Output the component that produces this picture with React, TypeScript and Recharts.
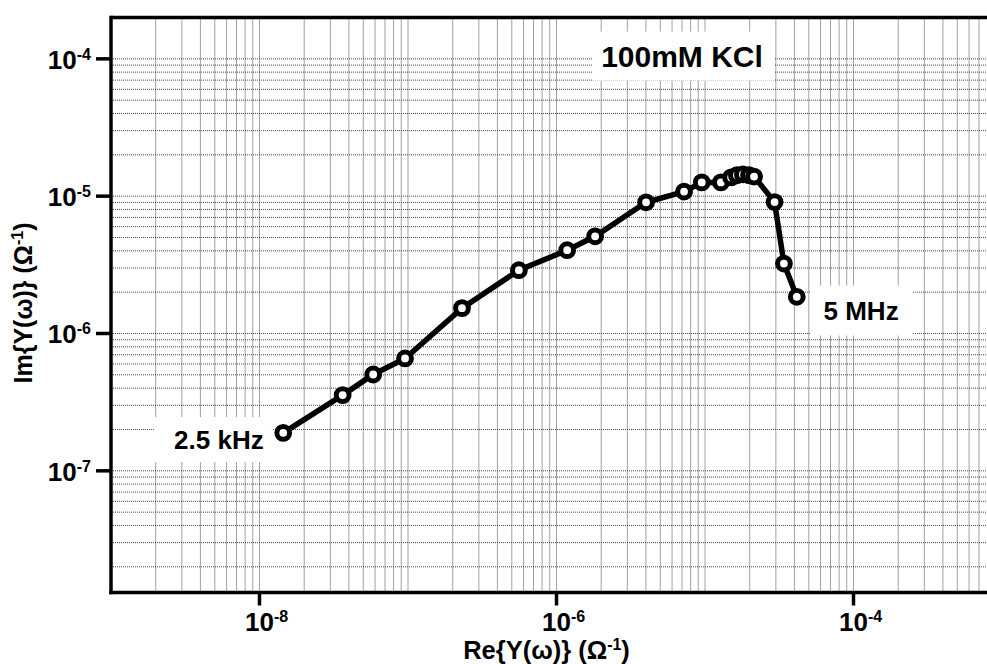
import React from "react";
import { LineChart, Line, XAxis, YAxis, CartesianGrid, ReferenceLine, ReferenceDot } from "recharts";

// Re{Y(ω)} (Ω^-1)
const reY = [
  1.445e-8, 3.63e-8, 5.83e-8, 9.55e-8, 2.31e-7, 5.58e-7, 1.18e-6, 1.82e-6, 4.01e-6, 7.23e-6,
  9.51e-6, 1.28e-5, 1.5e-5, 1.64e-5, 1.8e-5, 1.98e-5, 2.14e-5, 2.94e-5, 3.4e-5, 4.15e-5,
];
// Im{Y(ω)} (Ω^-1)
const imY = [
  1.89e-7, 3.56e-7, 5.03e-7, 6.58e-7, 1.53e-6, 2.89e-6, 4.04e-6, 5.1e-6, 9.02e-6, 1.08e-5,
  1.26e-5, 1.26e-5, 1.37e-5, 1.42e-5, 1.44e-5, 1.42e-5, 1.39e-5, 9.06e-6, 3.23e-6, 1.85e-6,
];

const X_DOMAIN = [1e-9, 1e-3];
const Y_DOMAIN = [1.3e-8, 2e-4];
const X_MAJOR = [1e-8, 1e-6, 1e-4];
const Y_MAJOR = [1e-7, 1e-6, 1e-5, 1e-4];
const X_DECADES = [1e-9, 1e-8, 1e-7, 1e-6, 1e-5, 1e-4];
const Y_DECADES = [1e-8, 1e-7, 1e-6, 1e-5, 1e-4];
const MULTIPLIERS = [1, 2, 3, 4, 5, 6, 7, 8, 9];

const LABEL_KCL = { x: 7.0e-6, y: 1.047e-4, text: "100mM KCl" };
const LABEL_LOW = { x: 5.33e-9, y: 1.69e-7, text: "2.5 kHz" };
const LABEL_HIGH = { x: 1.125e-4, y: 1.47e-6, text: "5 MHz" };

const data = reY.map((x, i) => ({ x, y: imY[i] }));

const inDomain = (v: number, d: number[]) => v >= d[0] * 0.999 && v <= d[1] * 1.001;
const xTicks = X_DECADES.flatMap((d) => MULTIPLIERS.map((m) => m * d)).filter((v) => inDomain(v, X_DOMAIN));
const yTicks = Y_DECADES.flatMap((d) => MULTIPLIERS.map((m) => m * d)).filter((v) => inDomain(v, Y_DOMAIN));

const isMajor = (v: number, majors: number[]) => majors.some((m) => Math.abs(Math.log10(v) - Math.log10(m)) < 1e-6);
const expOf = (v: number) => Math.round(Math.log10(v));

const FONT = "'Liberation Sans', Arial, Helvetica, sans-serif";

const XTick = (props: any) => {
  const { x, y, payload } = props;
  if (!isMajor(payload.value, X_MAJOR)) return <g />;
  return (
    <g>
      <line x1={x} x2={x} y1={y} y2={y + 13} stroke="#000" strokeWidth={3.5} />
      <text x={x - 14.5} y={y + 38} textAnchor="start" fontFamily={FONT} fontWeight="bold" fontSize={26} fill="#000">
        <tspan>10</tspan>
        <tspan dy={-9} fontSize={16}>{String(expOf(payload.value))}</tspan>
      </text>
    </g>
  );
};

const YTick = (props: any) => {
  const { x, y, payload } = props;
  if (!isMajor(payload.value, Y_MAJOR)) return <g />;
  return (
    <g>
      <line x1={x - 15} x2={x} y1={y} y2={y} stroke="#000" strokeWidth={3.5} />
      <text x={x - 20} y={y + 10} textAnchor="end" fontFamily={FONT} fontWeight="bold" fontSize={26} fill="#000">
        <tspan>10</tspan>
        <tspan dy={-9} fontSize={16}>{String(expOf(payload.value))}</tspan>
      </text>
    </g>
  );
};

const boxLabel = (text: string, w: number, h: number, fontSize: number, dx = 0) => (props: any) => {
  const { cx, cy } = props;
  return (
    <g>
      <rect x={cx - w / 2 + dx} y={cy - h / 2} width={w} height={h} fill="#fff" />
      <text x={cx} y={cy + fontSize * 0.36} textAnchor="middle" fontFamily={FONT} fontWeight="bold" fontSize={fontSize} fill="#000">
        {text}
      </text>
    </g>
  );
};

const XTitle = (props: any) => {
  const vb = props.viewBox || {};
  const cx = (vb.x ?? 0) + (vb.width ?? 0) / 2 - 10;
  return (
    <text x={cx} y={659} textAnchor="middle" fontFamily={FONT} fontWeight="bold" fontSize={25.5} fill="#000">
      <tspan>{"Re{Y(ω)} (Ω"}</tspan>
      <tspan dy={-9} fontSize={16}>-1</tspan>
      <tspan dy={9}>)</tspan>
    </text>
  );
};

const YTitle = () => (
  <text x={0} y={0} transform="translate(32,303) rotate(-90)" textAnchor="middle" fontFamily={FONT} fontWeight="bold" fontSize={25} fill="#000">
    <tspan>{"Im{Y(ω)} (Ω"}</tspan>
    <tspan dy={-9} fontSize={16}>-1</tspan>
    <tspan dy={9}>)</tspan>
  </text>
);

export default function App() {
  return (
    <div style={{ position: "fixed", left: 0, top: 0, width: 987, height: 664, overflow: "hidden", background: "#fff" }}>
      <LineChart width={1010} height={664} data={data} margin={{ top: 17.5, right: 8, bottom: 41.5, left: 51 }}>
        <CartesianGrid stroke="#444" strokeDasharray="1 1" strokeWidth={1} />
        <XAxis
          dataKey="x"
          type="number"
          scale="log"
          domain={X_DOMAIN}
          allowDataOverflow
          ticks={xTicks}
          interval={0}
          tick={<XTick />}
          tickLine={false}
          tickSize={0}
          tickMargin={0}
          height={30}
          axisLine={{ stroke: "#000", strokeWidth: 3.5, strokeLinecap: "square" }}
          label={<XTitle />}
        />
        <YAxis
          dataKey="y"
          type="number"
          scale="log"
          domain={Y_DOMAIN}
          allowDataOverflow
          ticks={yTicks}
          interval={0}
          tick={<YTick />}
          tickLine={false}
          tickSize={0}
          tickMargin={0}
          width={60}
          axisLine={{ stroke: "#000", strokeWidth: 3.5, strokeLinecap: "square" }}
          label={<YTitle />}
        />
        <ReferenceLine y={Y_DOMAIN[1]} stroke="#000" strokeWidth={3.5} />
        <Line
          dataKey="y"
          stroke="#000"
          strokeWidth={5.5}
          isAnimationActive={false}
          dot={{ r: 6.4, fill: "#fff", stroke: "#000", strokeWidth: 5 }}
          activeDot={false}
        />
        <ReferenceDot x={LABEL_KCL.x} y={LABEL_KCL.y} shape={boxLabel(LABEL_KCL.text, 183, 49, 30, 1.5)} />
        <ReferenceDot x={LABEL_LOW.x} y={LABEL_LOW.y} shape={boxLabel(LABEL_LOW.text, 118, 45, 26, -6)} />
        <ReferenceDot x={LABEL_HIGH.x} y={LABEL_HIGH.y} shape={boxLabel(LABEL_HIGH.text, 102, 50, 26)} />
      </LineChart>
    </div>
  );
}
